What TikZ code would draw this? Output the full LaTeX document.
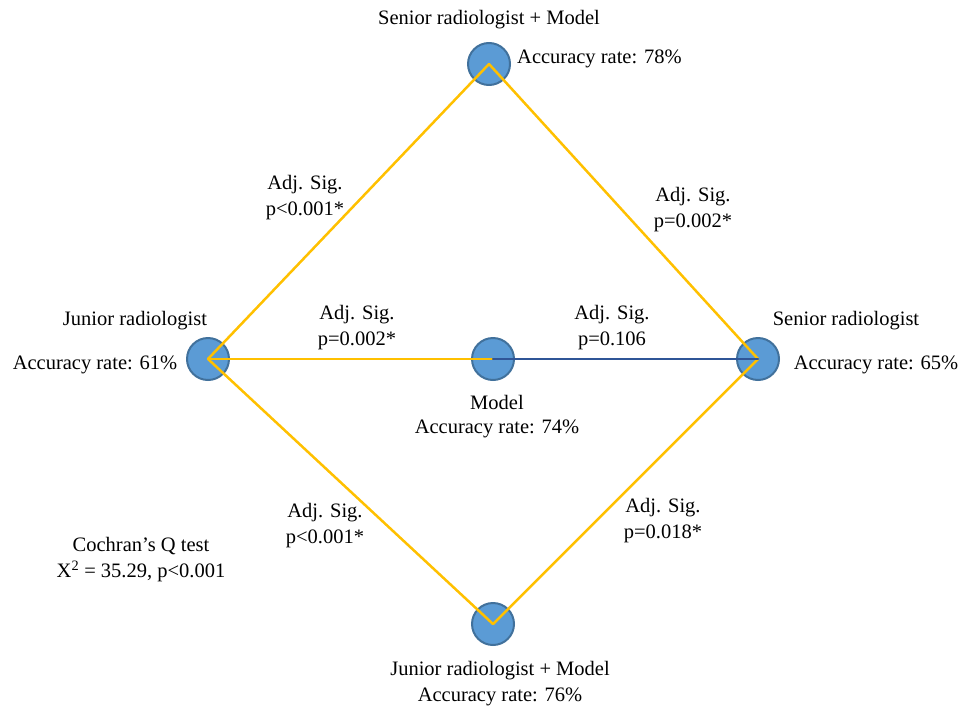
\documentclass[tikz,border=0pt]{standalone}
\usepackage{fontspec}
\setmainfont{Liberation Serif}
\definecolor{dotblue}{HTML}{5B9BD5}
\definecolor{dotedge}{HTML}{41719C}
\definecolor{linegold}{HTML}{FFC000}
\definecolor{lineblue}{HTML}{2F5597}
\tikzset{
	dot/.style={circle, fill=dotblue, draw=dotedge, line width=2pt, minimum size=42pt, inner sep=0pt},
	lab/.style={align=center, inner sep=0pt},
	goldline/.style={draw=linegold, line width=2.5pt},
	blueline/.style={draw=lineblue, line width=2.5pt}
}
\begin{document}
\begin{tikzpicture}[x=1pt, y=-1pt, font=\fontsize{20.5}{26}\selectfont, line join=round, line cap=round]
				\useasboundingbox (0,0) rectangle (960,707);
				\node[dot] (SM) at (489,64) {};
				\node[dot] (J) at (208,359) {};
				\node[dot] (M) at (493,359) {};
				\node[dot] (S) at (758,359) {};
				\node[dot] (JM) at (493,624) {};
				\draw[goldline] (J.center)--(SM.center);
				\draw[goldline] (SM.center)--(S.center);
				\draw[goldline] (J.center)--(JM.center);
				\draw[goldline] (JM.center)--(S.center);
				\draw[goldline] (J.center)--(M.center);
				\draw[blueline] (M.center)--(S.center);
				\node[lab] (smname) at (489,20) {Senior radiologist + Model};
				\node[lab, anchor=west] (smacc) at (517,59) {Accuracy rate: 78\%};
				\node[lab] (jname) at (135,321) {Junior radiologist};
				\node[lab] (jacc) at (95,365) {Accuracy rate: 61\%};
				\node[lab] (sname) at (846,321) {Senior radiologist};
				\node[lab] (sacc) at (876,365) {Accuracy rate: 65\%};
				\node[lab] (mname) at (497,402) {Model};
				\node[lab] (macc) at (497,429) {Accuracy rate: 74\%};
				\node[lab] (jmname) at (500,671) {Junior radiologist + Model};
				\node[lab] (jmacc) at (500,697) {Accuracy rate: 76\%};
				\node[lab] (p1) at (305,198) {Adj. Sig.\\p<0.001*};
				\node[lab] (p2) at (693,210) {Adj. Sig.\\p=0.002*};
				\node[lab] (p3) at (357,328) {Adj. Sig.\\p=0.002*};
				\node[lab] (p4) at (612,328) {Adj. Sig.\\p=0.106};
				\node[lab] (p5) at (325,526) {Adj. Sig.\\p<0.001*};
				\node[lab] (p6) at (663,521) {Adj. Sig.\\p=0.018*};
				\node[lab] (qtest) at (141,560) {Cochran’s Q test\\X\textsuperscript{2} = 35.29, p<0.001};
			\end{tikzpicture}
\end{document}
